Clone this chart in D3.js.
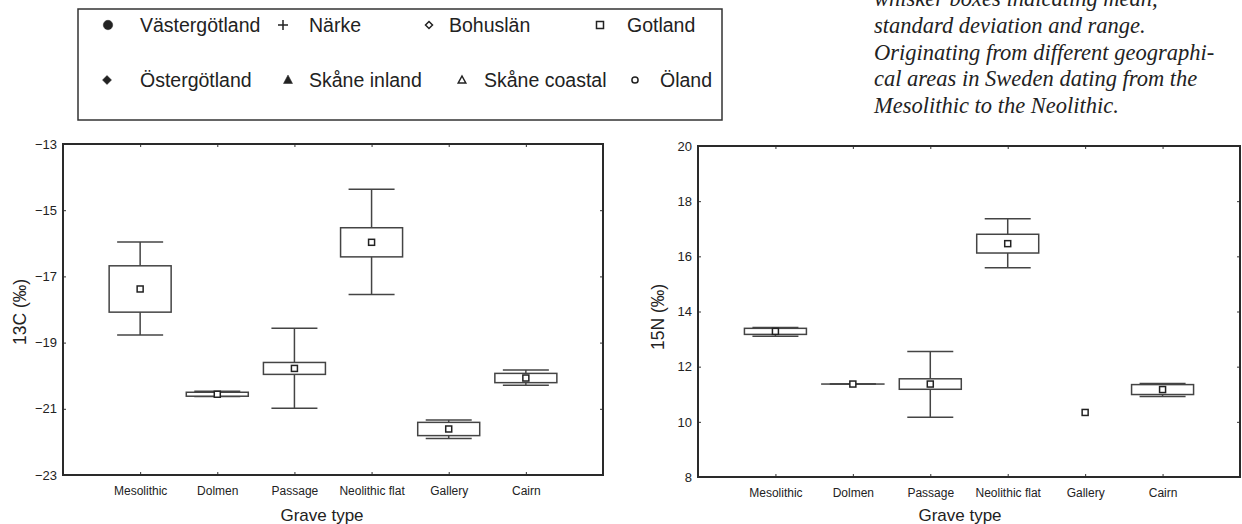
<!DOCTYPE html>
<html>
<head>
<meta charset="utf-8">
<script src="https://cdn.jsdelivr.net/npm/d3@7"></script>
<style>
  body { margin: 0; background: #fff; }
  svg text { font-family: "Liberation Sans", Arial, sans-serif; fill: #222; }
  .caption { font-family: "Liberation Serif", "Times New Roman", serif; font-style: italic; fill: #222; }
</style>
</head>
<body>
<div id="chart"></div>
<script>
// grave types (x categories)
var categories = ["Mesolithic", "Dolmen", "Passage", "Neolithic flat", "Gallery", "Cairn"];

// 13C: mean, standard deviation, range
var c13Mean = [-17.38, -20.56, -19.78, -15.97, -21.61, -20.07];
var c13Sd   = [0.70, 0.06, 0.18, 0.44, 0.20, 0.14];
var c13Min  = [-18.77, -20.63, -20.98, -17.55, -21.90, -20.29];
var c13Max  = [-15.96, -20.47, -18.57, -14.37, -21.34, -19.83];
var c13Ticks = [-13, -15, -17, -19, -21, -23];

// 15N: mean, standard deviation, range (Gallery only one value)
var n15Mean = [13.28, 11.37, 11.37, 16.46, 10.34, 11.17];
var n15Sd   = [0.11, 0, 0.19, 0.34, null, 0.18];
var n15Min  = [13.10, 11.37, 10.17, 15.59, null, 10.92];
var n15Max  = [13.42, 11.37, 12.55, 17.36, null, 11.39];
var n15Ticks = [8, 10, 12, 14, 16, 18, 20];

// legend
var legendLabels = ["Västergötland", "Närke", "Bohuslän", "Gotland",
                    "Östergötland", "Skåne inland", "Skåne coastal", "Öland"];
var legendShapes = ["circleF", "plus", "diamondO", "squareO",
                    "diamondF", "triangleF", "triangleO", "circleO"];

var captionLines = [
  "whisker boxes indicating mean,",
  "standard deviation and range.",
  "Originating from different geographi-",
  "cal areas in Sweden dating from the",
  "Mesolithic to the Neolithic."
];

var W = 1242, H = 524;
var svg = d3.select("#chart").append("svg")
  .attr("width", W).attr("height", H);

// ---- legend box
var legend = svg.append("g");
legend.append("rect")
  .attr("x", 78).attr("y", 9).attr("width", 644).attr("height", 111)
  .attr("fill", "none").attr("stroke", "#333").attr("stroke-width", 1.5);

var legMarkX = [108, 283, 429, 600, 107, 288, 462, 635];
var legTextX = [140, 309, 449, 627, 140, 309, 484, 660];
var legRowY = [25, 80];

function legendSymbol(g, shape) {
  var filled = /F$/.test(shape);
  var d;
  if (shape === "plus") d = "M-5,0H5M0,-5V5";
  else if (shape === "diamondO") d = "M0,-3.5L3.5,0L0,3.5L-3.5,0Z";
  else if (shape === "diamondF") d = "M0,-4.5L4.5,0L0,4.5L-4.5,0Z";
  else if (shape === "squareO") d = "M-3.5,-3.5H3.5V3.5H-3.5Z";
  else if (shape === "triangleF") d = "M0,-5L4.5,3.5H-4.5Z";
  else if (shape === "triangleO") d = "M0,-4L3.8,3H-3.8Z";
  else if (shape === "circleF") d = d3.symbol().type(d3.symbolCircle).size(70)();
  else d = d3.symbol().type(d3.symbolCircle).size(30)();
  g.append("path").attr("d", d)
    .attr("fill", shape === "plus" ? "none" : (filled ? "#222" : "#fff"))
    .attr("stroke", "#222").attr("stroke-width", filled ? 0.5 : 1.5);
}

legendLabels.forEach(function(lab, i) {
  var y = legRowY[Math.floor(i / 4)];
  var mg = legend.append("g").attr("transform", "translate(" + legMarkX[i] + "," + y + ")");
  legendSymbol(mg, legendShapes[i]);
  legend.append("text").attr("x", legTextX[i]).attr("y", y)
    .attr("dy", "0.35em").attr("font-size", 19.5).text(lab);
});

// ---- caption
svg.append("g").selectAll("text").data(captionLines).enter().append("text")
  .attr("class", "caption")
  .attr("x", 874)
  .attr("y", function(d, i) { return 6 + i * 26.8; })
  .attr("font-size", 22.5)
  .text(function(d) { return d; });

// ---- box-whisker panel
function panel(opt) {
  var x = d3.scalePoint().domain(categories).range([opt.left, opt.right]).padding(1);
  var y = d3.scaleLinear().domain(opt.domain).range([opt.bottom, opt.top]);
  var g = svg.append("g");
  var boxW = 62, capW = 46;

  g.append("g").attr("transform", "translate(" + opt.left + ",0)")
    .call(d3.axisLeft(y).tickValues(opt.ticks).tickSize(-3).tickPadding(6))
    .call(function(a) {
      a.select(".domain").remove();
      a.selectAll("text").attr("font-size", 13).attr("font-family", "Liberation Sans, Arial").attr("fill", "#222");
      a.selectAll("line").attr("stroke", "#333");
    });
  g.append("g").attr("transform", "translate(" + opt.right + ",0)")
    .call(d3.axisRight(y).tickValues(opt.ticks).tickSize(-3).tickFormat(""))
    .call(function(a) { a.select(".domain").remove(); a.selectAll("line").attr("stroke", "#333"); });
  g.append("g").attr("transform", "translate(0," + opt.bottom + ")")
    .call(d3.axisBottom(x).tickSize(-3).tickPadding(11))
    .call(function(a) {
      a.select(".domain").remove();
      a.selectAll("text").attr("font-size", 12).attr("font-family", "Liberation Sans, Arial").attr("fill", "#222");
      a.selectAll("line").attr("stroke", "#333");
    });
  g.append("g").attr("transform", "translate(0," + opt.top + ")")
    .call(d3.axisTop(x).tickSize(-3).tickFormat(""))
    .call(function(a) { a.select(".domain").remove(); a.selectAll("line").attr("stroke", "#333"); });

  g.append("rect")
    .attr("x", opt.left).attr("y", opt.top)
    .attr("width", opt.right - opt.left).attr("height", opt.bottom - opt.top)
    .attr("fill", "none").attr("stroke", "#2a2a2a").attr("stroke-width", 2);

  var items = categories.map(function(c, i) {
    return {cat: c, mean: opt.mean[i], sd: opt.sd[i], min: opt.min[i], max: opt.max[i]};
  });
  var stroke = "#444";

  items.forEach(function(d) {
    var cx = x(d.cat);
    if (d.sd !== null) {
      // whisker stem
      g.append("line").attr("x1", cx).attr("x2", cx)
        .attr("y1", y(d.max)).attr("y2", y(d.min))
        .attr("stroke", stroke).attr("stroke-width", 1.5);
      // caps
      [d.min, d.max].forEach(function(v) {
        g.append("line").attr("x1", cx - capW / 2).attr("x2", cx + capW / 2)
          .attr("y1", y(v)).attr("y2", y(v))
          .attr("stroke", stroke).attr("stroke-width", 1.5);
      });
      // box mean +/- sd
      g.append("rect")
        .attr("x", cx - boxW / 2).attr("width", boxW)
        .attr("y", y(d.mean + d.sd)).attr("height", Math.max(y(d.mean - d.sd) - y(d.mean + d.sd), 0.01))
        .attr("fill", "#fff").attr("stroke", stroke).attr("stroke-width", 1.5);
    }
    // mean marker
    g.append("rect")
      .attr("x", cx - 3).attr("y", y(d.mean) - 3)
      .attr("width", 6).attr("height", 6)
      .attr("fill", "#fff").attr("stroke", "#222").attr("stroke-width", 1.5);
  });

  g.append("text")
    .attr("transform", "translate(" + opt.ylabX + "," + opt.ylabY + ") rotate(-90)")
    .attr("text-anchor", "middle").attr("dy", "0.35em")
    .attr("font-size", 17.5).text(opt.ylabel);
  g.append("text")
    .attr("x", opt.xlabX).attr("y", 515)
    .attr("dy", "0.35em").attr("text-anchor", "middle")
    .attr("font-size", 17).text("Grave type");
}

panel({
  left: 63, right: 603, top: 144, bottom: 475,
  domain: [-23, -13], ticks: c13Ticks,
  mean: c13Mean, sd: c13Sd, min: c13Min, max: c13Max,
  ylabel: "13C (‰)", ylabX: 20, ylabY: 312, xlabX: 322
});

panel({
  left: 698, right: 1240, top: 146, bottom: 477,
  domain: [8, 20], ticks: n15Ticks,
  mean: n15Mean, sd: n15Sd, min: n15Min, max: n15Max,
  ylabel: "15N (‰)", ylabX: 658, ylabY: 317, xlabX: 960
});
</script>
</body>
</html>
